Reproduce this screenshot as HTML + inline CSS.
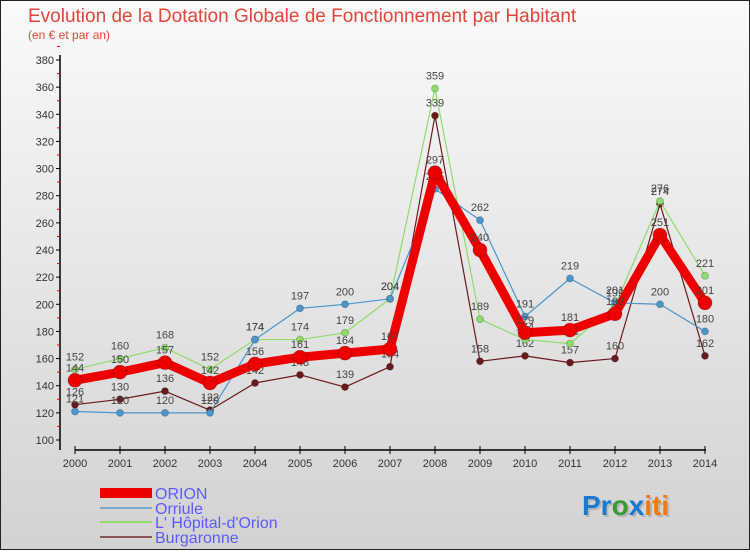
<!DOCTYPE html>
<html><head><meta charset="utf-8"><style>
body{margin:0;}
svg text{font-family:"Liberation Sans",sans-serif;}
</style></head><body>
<svg id="c" width="750" height="550" xmlns="http://www.w3.org/2000/svg">
<defs><linearGradient id="bg" x1="0" y1="0" x2="0" y2="1"><stop offset="0" stop-color="#fafafa"/><stop offset="1" stop-color="#d2d2d2"/></linearGradient></defs>
<rect x="0.5" y="0.5" width="749" height="549" fill="url(#bg)" stroke="#222"/>
<text x="28" y="22" font-size="19" fill="#e0463a">Evolution de la Dotation Globale de Fonctionnement par Habitant</text>
<text x="28" y="39" font-size="12" fill="#e0463a">(en € et par an)</text>
<g id="axes"></g><g id="series"></g>
<g>
<rect x="100" y="488" width="52" height="10" fill="#ee0000"/>
<rect x="100" y="507" width="52" height="2" fill="#7aa8cc"/>
<rect x="100" y="521" width="52" height="2" fill="#8fdc6a"/>
<rect x="100" y="536" width="52" height="2" fill="#8a5555"/>
<text x="155" y="499" font-size="16" fill="#5a5aff">ORION</text>
<text x="155" y="514" font-size="16" fill="#5a5aff">Orriule</text>
<text x="155" y="528" font-size="16" fill="#5a5aff">L' Hôpital-d'Orion</text>
<text x="155" y="543" font-size="16" fill="#5a5aff">Burgaronne</text>
</g>
<g font-size="28" font-weight="bold">
<text x="584" y="517" fill="#999" opacity="0.5"><tspan>Proxiti</tspan></text>
<text x="582" y="515"><tspan fill="#1a7ad0">Pr</tspan><tspan fill="#3a9a3a">o</tspan><tspan fill="#1a7ad0">x</tspan><tspan fill="#f07a10">iti</tspan></text>
</g>
</svg>
<script>
const years=[2000,2001,2002,2003,2004,2005,2006,2007,2008,2009,2010,2011,2012,2013,2014];
const orion=[144,150,157,142,156,161,164,167,297,240,179,181,193,251,201];
const orriule=[121,120,120,120,174,197,200,204,285,262,191,219,201,200,180];
const hopital=[152,160,168,152,174,174,179,204,359,189,174,171,199,276,221];
const burgaronne=[126,130,136,122,142,148,139,154,339,158,162,157,160,274,162];
const yTicks=[100,120,140,160,180,200,220,240,260,280,300,320,340,360,380];
const NS="http://www.w3.org/2000/svg";
const xs=i=>75+i*(705-75)/(years.length-1);
const ys=v=>440-(v-100)*380/280;
function mk(tag,at,parent){const e=document.createElementNS(NS,tag);for(const k in at)e.setAttribute(k,at[k]);parent.appendChild(e);return e;}
const ax=document.getElementById('axes');
const yl=mk('line',{x1:60,y1:55,x2:60,y2:450,stroke:'#000','stroke-width':1.5},ax);


const xl=mk('line',{x1:75,y1:450,x2:706,y2:450,stroke:'#000','stroke-width':1.5},ax);


yTicks.forEach(v=>{
 mk('line',{x1:56,y1:ys(v),x2:60,y2:ys(v),stroke:'#000'},ax);
 mk('line',{x1:57,y1:ys(v+10),x2:60,y2:ys(v+10),stroke:'#e00'},ax);
 const t=mk('text',{x:54,y:ys(v)+4,'font-size':11,'text-anchor':'end',fill:'#333'},ax);
 t.textContent=v;
 
 
});
years.forEach((y,i)=>{
 mk('line',{x1:xs(i),y1:446,x2:xs(i),y2:454,stroke:'#000'},ax);
 const t=mk('text',{x:xs(i),y:467,'font-size':11,'text-anchor':'middle',fill:'#333'},ax);
 t.textContent=y;
 
 
});
const sg=document.getElementById('series');
function series(data,color,w,r,name){
 const g=mk('g',{},sg);
 
 
 mk('polyline',{points:data.map((v,i)=>xs(i)+','+ys(v)).join(' '),fill:'none',stroke:color,'stroke-width':w,'stroke-linejoin':'round'},g);
 data.forEach((v,i)=>{
  const c=mk('circle',{cx:xs(i),cy:ys(v),r:r,fill:color,stroke:'rgba(0,0,0,0.2)'},g);
  
  
  const t=mk('text',{x:xs(i),y:ys(v)-9,'font-size':11,'text-anchor':'middle',fill:'#444'},g);
  t.textContent=v;
 });
}
series(burgaronne,'#6b1a1a',1.2,3.5,'series-burgaronne');
series(hopital,'#8fdc6a',1.2,3.5,'series-hopital');
series(orriule,'#4a96cf',1.2,3.5,'series-orriule');
series(orion,'#ee0000',9,7,'series-orion');
</script>
</body></html>
